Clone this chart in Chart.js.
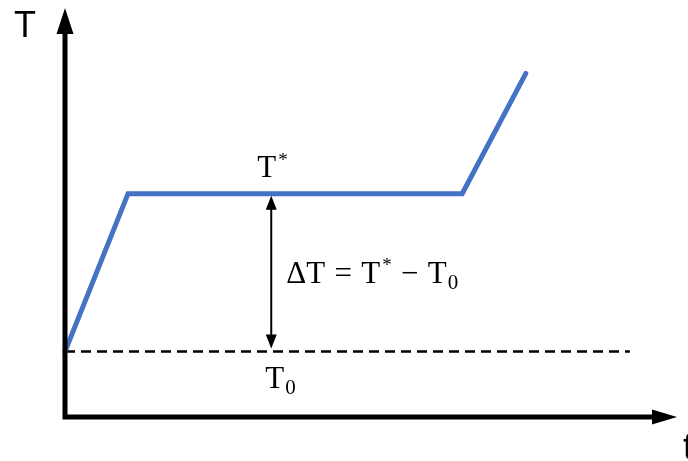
<!DOCTYPE html>
<html>
<head>
<meta charset="utf-8">
<script src="https://cdn.jsdelivr.net/npm/chart.js@4/dist/chart.umd.min.js"></script>
<style>
  body { margin: 0; background: #fff; }
  canvas { display: block; }
</style>
</head>
<body>
<canvas id="heatChart" width="688" height="461"></canvas>
<script>
// heating curve: ramp up, hold at T*, ramp again
const timeValues = [0, 1.03, 6.49, 7.53];
const tempValues = [1.6, 5.46, 5.46, 8.4];

// starting temperature T0, drawn dashed
const baseTime = [0, 9.23];
const T0 = 1.6;
const Tstar = 5.46;
const gapTime = 3.37; // where the ΔT arrow sits

const axisLabels = { y: 'T', x: 't' };

const serif = '"Liberation Serif", "DejaVu Serif", serif';
const sans = '"Liberation Sans", Arial, sans-serif';

function drawSub(ctx, x, y, base, sub, size) {
  ctx.font = size + 'px ' + serif;
  ctx.fillText(base, x, y);
  const w = ctx.measureText(base).width;
  ctx.font = Math.round(size * 0.68) + 'px ' + serif;
  ctx.fillText(sub, x + w + 1, y + size * 0.2);
  return w + 1 + ctx.measureText(sub).width;
}

function drawSup(ctx, x, y, base, sup, size) {
  ctx.font = size + 'px ' + serif;
  ctx.fillText(base, x, y);
  const w = ctx.measureText(base).width;
  ctx.font = Math.round(size * 0.6) + 'px ' + serif;
  ctx.fillText(sup, x + w + 2, y - size * 0.36);
  return w + 2 + ctx.measureText(sup).width;
}

function arrowHead(ctx, x, y, dx, dy, len, half) {
  // tip at (x, y), pointing along (dx, dy)
  const px = -dy, py = dx;
  ctx.beginPath();
  ctx.moveTo(x, y);
  ctx.lineTo(x - dx * len + px * half, y - dy * len + py * half);
  ctx.lineTo(x - dx * len - px * half, y - dy * len - py * half);
  ctx.closePath();
  ctx.fill();
}

// math operator with some room on both sides
function drawOp(ctx, x, y, op, size) {
  ctx.font = size + 'px ' + serif;
  const pad = size * 0.3;
  ctx.fillText(op, x + pad, y);
  return pad * 2 + ctx.measureText(op).width;
}

const axesPlugin = {
  id: 'axesPlugin',
  afterDatasetsDraw(chart) {
    const ctx = chart.ctx;
    const a = chart.chartArea;
    const xs = chart.scales.x, ys = chart.scales.y;
    ctx.save();
    ctx.fillStyle = '#000';
    ctx.strokeStyle = '#000';

    // axes with arrow heads
    ctx.lineWidth = 5;
    ctx.beginPath();
    ctx.moveTo(a.left, a.bottom + 2.5);
    ctx.lineTo(a.left, a.top + 22);
    ctx.moveTo(a.left - 2.5, a.bottom);
    ctx.lineTo(a.right - 22, a.bottom);
    ctx.stroke();
    arrowHead(ctx, a.left, a.top, 0, -1, 26, 8.5);
    arrowHead(ctx, a.right, a.bottom, 1, 0, 25, 7.5);

    ctx.textBaseline = 'alphabetic';
    ctx.font = '36px ' + sans;
    ctx.fillText(axisLabels.y, 14, 37);
    ctx.fillText(axisLabels.x, a.right + 6, 459);

    // ΔT double arrow between T0 and T*
    const gx = xs.getPixelForValue(gapTime);
    const yTop = ys.getPixelForValue(Tstar) + 2;
    const yBot = ys.getPixelForValue(T0) - 3;
    ctx.lineWidth = 2;
    ctx.beginPath();
    ctx.moveTo(gx, yTop + 10);
    ctx.lineTo(gx, yBot - 10);
    ctx.stroke();
    arrowHead(ctx, gx, yTop, 0, -1, 14, 5.5);
    arrowHead(ctx, gx, yBot, 0, 1, 14, 5.5);

    // level labels
    const size = 31;
    drawSup(ctx, gx - 14, ys.getPixelForValue(Tstar) - 17, 'T', '*', size);
    drawSub(ctx, gx - 6, ys.getPixelForValue(T0) + 36, 'T', '0', size);

    // equation
    let x = gx + 15;
    const y = ys.getPixelForValue((T0 + Tstar) / 2) + 10;
    ctx.font = size + 'px ' + serif;
    ctx.fillText('ΔT', x, y);
    x += ctx.measureText('ΔT').width;
    x += drawOp(ctx, x, y, '=', size);
    x += drawSup(ctx, x, y, 'T', '*', size);
    x += drawOp(ctx, x, y, '\u2212', size);
    drawSub(ctx, x, y, 'T', '0', size);

    ctx.restore();
  }
};

new Chart(document.getElementById('heatChart'), {
  type: 'line',
  data: {
    datasets: [
      {
        data: timeValues.map((t, i) => ({ x: t, y: tempValues[i] })),
        borderColor: '#4472C4',
        borderWidth: 5,
        borderJoinStyle: 'miter',
        borderCapStyle: 'round',
        pointRadius: 0,
        tension: 0,
        clip: false
      },
      {
        data: baseTime.map(t => ({ x: t, y: T0 })),
        borderColor: '#000',
        borderWidth: 2.5,
        borderDash: [10, 6],
        pointRadius: 0,
        clip: false
      }
    ]
  },
  options: {
    responsive: false,
    animation: false,
    layout: { padding: { left: 65, right: 11, top: 8, bottom: 44 } },
    plugins: { legend: { display: false }, tooltip: { enabled: false } },
    scales: {
      x: { type: 'linear', min: 0, max: 10, display: false },
      y: { type: 'linear', min: 0, max: 10, display: false }
    }
  },
  plugins: [axesPlugin]
});
</script>
</body>
</html>
